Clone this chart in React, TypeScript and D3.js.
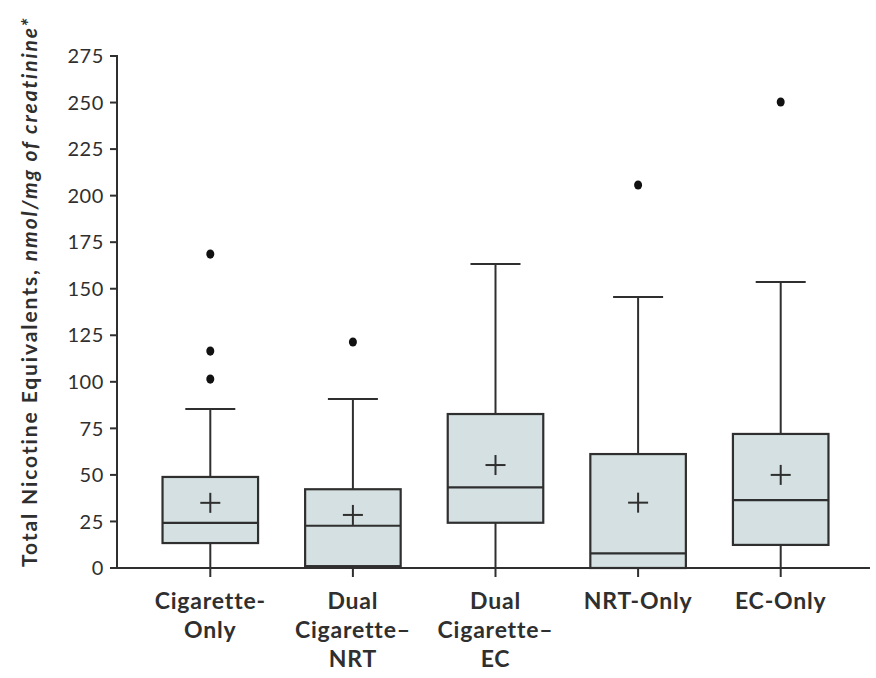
import React from 'react';
import * as d3 from 'd3';

// group labels (lines split for the x axis)
const categories = ['Cigarette-Only', 'Dual Cigarette–NRT', 'Dual Cigarette–EC', 'NRT-Only', 'EC-Only'];
const categoryLines = [
  ['Cigarette-', 'Only'],
  ['Dual', 'Cigarette–', 'NRT'],
  ['Dual', 'Cigarette–', 'EC'],
  ['NRT-Only'],
  ['EC-Only'],
];

const whiskerLow = [0, 0, 0, 0, 0];
const q1 = [13.4, 1, 24.3, 0, 12.4];
const medians = [24.2, 22.7, 43.3, 7.9, 36.5];
const q3 = [48.9, 42.3, 82.7, 61.2, 72];
const whiskerHigh = [85.4, 90.8, 163.3, 145.5, 153.6];
const means = [35, 28.5, 55.3, 35.1, 50];
const outliers = [[168.6, 116.5, 101.5], [121.4], [], [205.7], [250.3]];

const yTicks = [0, 25, 50, 75, 100, 125, 150, 175, 200, 225, 250, 275];

const W = 876;
const H = 678;
const ink = '#2f2f2f';
const boxFill = '#d4e0e1';

export default function App() {
  const margin = { left: 117, top: 56, right: 6, bottom: 110 };

  const x = d3.scaleBand<string>()
    .domain(categories)
    .range([139, 852])
    .paddingInner(0.33)
    .paddingOuter(0.165);

  const y = d3.scaleLinear()
    .domain([0, 275])
    .range([H - margin.bottom, margin.top]);

  const bw = x.bandwidth();
  const capW = 50;
  const plus = 10;

  return (
    <svg width={W} height={H} style={{ position: 'absolute', left: 0, top: 0, background: '#fff' }}
      fontFamily="Lato, 'Open Sans', sans-serif">
      {/* y axis title */}
      <text transform={`translate(37, ${y(0) - 1}) rotate(-90)`} fontSize={21} fontWeight="bold"
        fill={ink} letterSpacing={1.9}>
        Total Nicotine Equivalents, <tspan fontStyle="italic">nmol/mg of creatinine*</tspan>
      </text>

      {/* y axis */}
      <line x1={margin.left} x2={margin.left} y1={y(275) - 1} y2={y(0)} stroke={ink} strokeWidth={2} />
      {yTicks.map(t => (
        <g key={t}>
          <line x1={margin.left - 7} x2={margin.left} y1={y(t)} y2={y(t)} stroke={ink} strokeWidth={2} />
          <text x={margin.left - 13} y={y(t)} dy="0.36em" textAnchor="end" fontSize={20} fill={ink}
            letterSpacing={0.6}>{t}</text>
        </g>
      ))}

      {/* x axis */}
      <line x1={margin.left} x2={W - margin.right} y1={y(0)} y2={y(0)} stroke={ink} strokeWidth={2} />

      {categories.map((c, i) => {
        const cx = x(c)! + bw / 2;
        return (
          <g key={c}>
            <line x1={cx} x2={cx} y1={y(0)} y2={y(0) + 9} stroke={ink} strokeWidth={2} />
            {/* whiskers */}
            <line x1={cx} x2={cx} y1={y(whiskerHigh[i])} y2={y(q3[i])} stroke={ink} strokeWidth={2} />
            <line x1={cx - capW / 2} x2={cx + capW / 2} y1={y(whiskerHigh[i])} y2={y(whiskerHigh[i])}
              stroke={ink} strokeWidth={2} />
            <line x1={cx} x2={cx} y1={y(q1[i])} y2={y(whiskerLow[i])} stroke={ink} strokeWidth={2} />
            {/* box */}
            <rect x={x(c)} y={y(q3[i])} width={bw} height={y(q1[i]) - y(q3[i])}
              fill={boxFill} stroke={ink} strokeWidth={2.2} />
            <line x1={x(c)} x2={x(c)! + bw} y1={y(medians[i])} y2={y(medians[i])} stroke={ink} strokeWidth={2.2} />
            {/* mean */}
            <line x1={cx - plus} x2={cx + plus} y1={y(means[i])} y2={y(means[i])} stroke={ink} strokeWidth={2} />
            <line x1={cx} x2={cx} y1={y(means[i]) - plus} y2={y(means[i]) + plus} stroke={ink} strokeWidth={2} />
            {/* outliers */}
            {outliers[i].map((o, j) => (
              <ellipse key={j} cx={cx} cy={y(o)} rx={4} ry={4.6} fill="#111" />
            ))}
            {/* label */}
            <text x={cx} textAnchor="middle" fontSize={23} fontWeight="bold" fill={ink} letterSpacing={0.8}>
              {categoryLines[i].map((l, k) => (
                <tspan key={k} x={cx} y={609 + k * 29}>{l}</tspan>
              ))}
            </text>
          </g>
        );
      })}
    </svg>
  );
}
